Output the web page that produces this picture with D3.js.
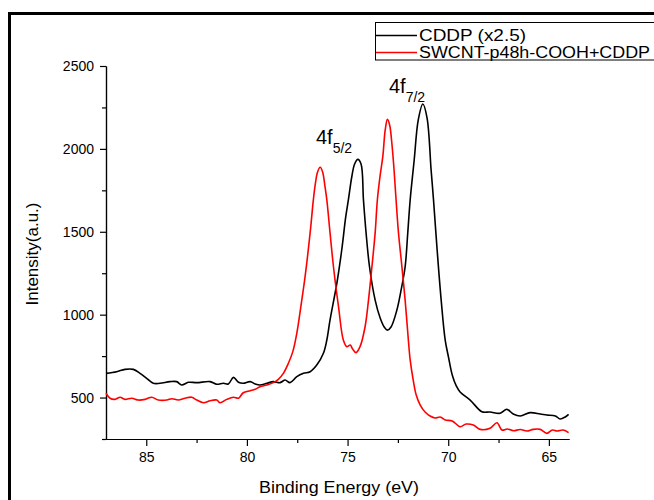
<!DOCTYPE html>
<html>
<head>
<meta charset="utf-8">
<script src="https://cdn.jsdelivr.net/npm/d3@7"></script>
<style>
html,body{margin:0;padding:0;background:#fff;}
svg{display:block;font-family:"Liberation Sans",Arial,sans-serif;}
</style>
</head>
<body>
<svg id="chart" width="654" height="500"></svg>
<script>
// ---- data ----
const cddpEnergy = [87.0,86.47,86.06,85.64,85.31,84.98,84.65,84.32,83.82,83.49,83.24,82.91,82.49,81.83,81.5,81.17,80.92,80.67,80.42,80.18,79.84,79.59,79.35,79.01,78.69,78.35,78.1,77.86,77.52,77.19,76.86,76.53,76.2,76.03,75.87,75.53,75.29,75.09,74.96,74.79,74.65,74.49,74.33,74.21,74.08,73.91,73.63,73.38,73.18,73.02,72.84,72.55,72.34,72.14,72.01,71.89,71.69,71.49,71.26,71.05,70.85,70.73,70.55,70.35,70.15,69.99,69.8,69.6,69.41,68.91,68.33,67.92,67.42,67.09,66.77,66.42,65.93,65.43,65.1,64.68,64.44,64.19,64.02];
const cddpIntensity = [646,656,670,670,646,616,586,586,596,596,576,592,590,596,580,586,582,622,592,586,596,582,576,586,596,590,606,590,626,646,656,696,767,847,968,1191,1390,1591,1692,1832,1909,1937,1909,1692,1493,1289,1088,980,926,907,926,1028,1149,1289,1493,1692,1933,2174,2271,2186,1873,1692,1390,1088,847,746,636,570,534,485,415,413,405,429,401,389,409,401,395,389,371,383,399];

const swcntEnergy = [87.0,86.8,86.55,86.3,86.06,85.72,85.39,85.06,84.73,84.4,83.98,83.73,83.41,83.07,82.74,82.49,82.16,81.83,81.5,81.33,81.0,80.67,80.42,80.18,79.84,79.59,79.35,79.01,78.69,78.44,78.19,77.94,77.72,77.52,77.31,77.11,76.86,76.7,76.61,76.49,76.36,76.24,76.12,76.03,75.87,75.7,75.45,75.21,75.04,74.87,74.74,74.58,74.38,74.13,73.96,73.79,73.63,73.52,73.38,73.25,73.13,73.02,72.91,72.8,72.69,72.59,72.47,72.3,72.14,71.98,71.89,71.74,71.59,71.39,71.15,70.9,70.65,70.4,70.15,69.8,69.41,69.11,68.75,68.41,67.92,67.58,67.33,67.07,66.76,66.42,66.09,65.78,65.43,65.1,64.83,64.59,64.29,64.02];
const swcntIntensity = [526,496,489,502,489,496,485,489,502,485,485,493,485,496,502,485,469,481,485,469,489,502,496,529,541,550,565,576,590,610,646,707,777,889,1058,1229,1493,1692,1782,1861,1889,1861,1772,1692,1493,1289,1048,847,807,817,791,771,807,927,1088,1289,1493,1692,1842,1953,2114,2178,2144,2034,1873,1692,1493,1289,1088,847,727,606,515,455,413,389,377,383,365,359,324,340,334,308,315,348,304,310,300,307,298,308,308,284,304,298,304,288];

const xMajorTicks = [85,80,75,70,65];
const xMinorTicks = [82.5,77.5,72.5,67.5];
const yMajorTicks = [500,1000,1500,2000,2500];
const yMinorTicks = [250,750,1250,1750,2250];

const seriesNames = ["CDDP (x2.5)","SWCNT-p48h-COOH+CDDP"];
const seriesColors = ["#000000","#ff0000"];
const xTitle = "Binding Energy (eV)";
const yTitle = "Intensity(a.u.)";

// ---- drawing ----
const svg = d3.select("#chart");
const x = d3.scaleLinear().domain([87,64]).range([106,569]);
const y = d3.scaleLinear().domain([250,2500]).range([439,66]);

// outer frame
svg.append("rect").attr("x",9.5).attr("y",13.5).attr("width",700).attr("height",600)
  .attr("fill","none").attr("stroke","#000").attr("stroke-width",3);

function styleAxis(g){
  g.select(".domain").attr("stroke","#000").attr("stroke-width",1.2);
  g.selectAll(".tick line").attr("stroke","#000").attr("stroke-width",1.2);
  g.selectAll(".tick text").attr("fill","#000").style("font-size","14px")
    .style("font-family","'Liberation Sans',Arial,sans-serif");
}

const xAxis = svg.append("g").attr("transform","translate(0,439)")
  .call(d3.axisBottom(x).tickValues(xMajorTicks).tickSize(7).tickSizeOuter(0).tickPadding(6).tickFormat(d3.format("d")));
styleAxis(xAxis);
const xMinor = svg.append("g").attr("transform","translate(0,439)")
  .call(d3.axisBottom(x).tickValues(xMinorTicks).tickSize(4).tickSizeOuter(0).tickFormat(""));
styleAxis(xMinor);

const yAxis = svg.append("g").attr("transform","translate(106,0)")
  .call(d3.axisLeft(y).tickValues(yMajorTicks).tickSize(6).tickSizeOuter(0).tickPadding(6).tickFormat(d3.format("d")));
styleAxis(yAxis);
const yMinor = svg.append("g").attr("transform","translate(106,0)")
  .call(d3.axisLeft(y).tickValues(yMinorTicks).tickSize(4).tickSizeOuter(0).tickFormat(""));
styleAxis(yMinor);

// axis titles
svg.append("text").attr("x",339).attr("y",493).attr("text-anchor","middle")
  .attr("textLength",160).attr("lengthAdjust","spacingAndGlyphs")
  .style("font-size","17px").attr("fill","#000").text(xTitle);
svg.append("text").attr("transform","translate(38,254) rotate(-90)").attr("text-anchor","middle")
  .style("font-size","17px").attr("fill","#000").text(yTitle);

// lines
const line = d3.line().x(d=>x(d[0])).y(d=>y(d[1])).curve(d3.curveCatmullRom.alpha(0.5));
const cddp = cddpEnergy.map((e,i)=>[e,cddpIntensity[i]]);
const swcnt = swcntEnergy.map((e,i)=>[e,swcntIntensity[i]]);
svg.append("path").datum(cddp).attr("d",line).attr("fill","none")
  .attr("stroke",seriesColors[0]).attr("stroke-width",1.6).attr("stroke-linejoin","round");
svg.append("path").datum(swcnt).attr("d",line).attr("fill","none")
  .attr("stroke",seriesColors[1]).attr("stroke-width",1.6).attr("stroke-linejoin","round");

// peak labels
function peakLabel(px,py,sub){
  const t = svg.append("text").attr("x",px).attr("y",py).attr("fill","#000").style("font-size","20px");
  t.append("tspan").text("4f");
  t.append("tspan").attr("dy",9).style("font-size","14px").text(sub);
}
peakLabel(389,93,"7/2");
peakLabel(316,144,"5/2");

// legend
const legendWidths = [107,231];
const lg = svg.append("g");
lg.append("rect").attr("x",375.5).attr("y",22.5).attr("width",400).attr("height",37.5)
  .attr("fill","#fff").attr("stroke","#000").attr("stroke-width",1);
seriesNames.forEach((n,i)=>{
  const yy = 35.5 + i*17;
  lg.append("line").attr("x1",376).attr("x2",417).attr("y1",yy).attr("y2",yy)
    .attr("stroke",seriesColors[i]).attr("stroke-width",1.6);
  lg.append("text").attr("x",419).attr("y",yy+5.8).style("font-size","16px")
    .attr("textLength",legendWidths[i]).attr("lengthAdjust","spacingAndGlyphs")
    .attr("fill","#000").text(n);
});
</script>
</body>
</html>
